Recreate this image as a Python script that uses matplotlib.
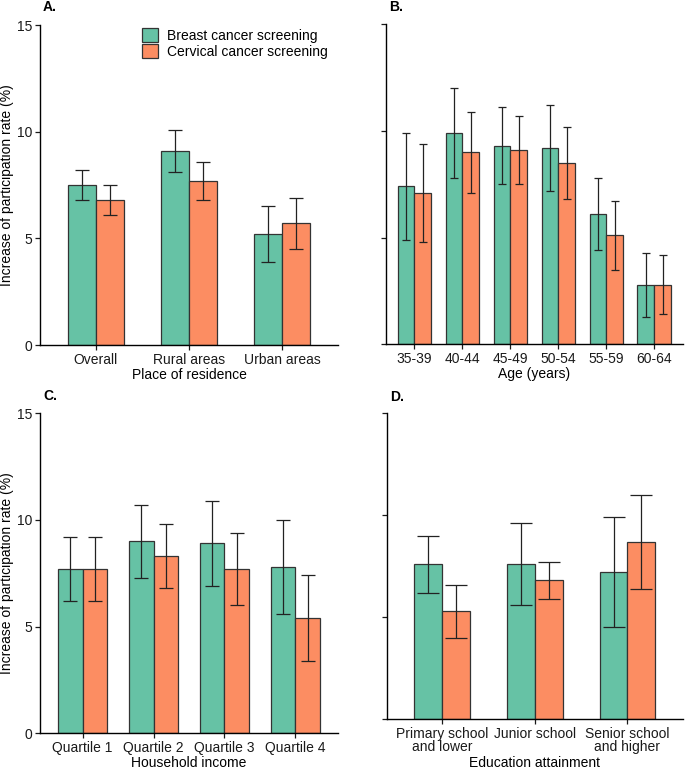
import numpy as np
import matplotlib.pyplot as plt

plt.rcParams['font.family'] = ['Liberation Sans', 'DejaVu Sans']

GREEN = '#66C2A5'
ORANGE = '#FC8D62'

# Panel A - place of residence
res_cats = ['Overall', 'Rural areas', 'Urban areas']
res_breast = [7.5, 9.1, 5.2]
res_breast_lo = [6.8, 8.1, 3.9]
res_breast_hi = [8.2, 10.1, 6.5]
res_cerv = [6.8, 7.7, 5.7]
res_cerv_lo = [6.1, 6.8, 4.5]
res_cerv_hi = [7.5, 8.6, 6.9]

# Panel B - age
age_cats = ['35-39', '40-44', '45-49', '50-54', '55-59', '60-64']
age_breast = [7.4, 9.9, 9.3, 9.2, 6.1, 2.8]
age_breast_lo = [4.9, 7.8, 7.5, 7.2, 4.4, 1.3]
age_breast_hi = [9.9, 12.0, 11.1, 11.2, 7.8, 4.3]
age_cerv = [7.1, 9.0, 9.1, 8.5, 5.1, 2.8]
age_cerv_lo = [4.8, 7.1, 7.5, 6.8, 3.5, 1.4]
age_cerv_hi = [9.4, 10.9, 10.7, 10.2, 6.7, 4.2]

# Panel C - household income
inc_cats = ['Quartile 1', 'Quartile 2', 'Quartile 3', 'Quartile 4']
inc_breast = [7.7, 9.0, 8.9, 7.8]
inc_breast_lo = [6.2, 7.3, 6.9, 5.6]
inc_breast_hi = [9.2, 10.7, 10.9, 10.0]
inc_cerv = [7.7, 8.3, 7.7, 5.4]
inc_cerv_lo = [6.2, 6.8, 6.0, 3.4]
inc_cerv_hi = [9.2, 9.8, 9.4, 7.4]

# Panel D - education
edu_cats = ['Primary school\nand lower', 'Junior school', 'Senior school\nand higher']
edu_breast = [7.6, 7.6, 7.2]
edu_breast_lo = [6.2, 5.6, 4.5]
edu_breast_hi = [9.0, 9.6, 9.9]
edu_cerv = [5.3, 6.8, 8.7]
edu_cerv_lo = [4.0, 5.9, 6.4]
edu_cerv_hi = [6.6, 7.7, 11.0]

fig = plt.figure(figsize=(6.85, 7.7), dpi=100)


def panel(rect, cats, b, blo, bhi, c, clo, chi, width, cap, xlabel, letter, ylabels=True):
    ax = fig.add_axes(rect)
    x = np.arange(1, len(cats) + 1)
    ekw = dict(ecolor='#222222', elinewidth=0.9, capthick=0.9, capsize=cap)
    b = np.array(b); c = np.array(c)
    ax.bar(x - width / 2, b, width, color=GREEN, edgecolor='#333333', linewidth=0.9,
           label='Breast cancer screening')
    ax.bar(x + width / 2, c, width, color=ORANGE, edgecolor='#333333', linewidth=0.9,
           label='Cervical cancer screening')
    ax.errorbar(x - width / 2, b, yerr=[b - np.array(blo), np.array(bhi) - b], fmt='none', **ekw)
    ax.errorbar(x + width / 2, c, yerr=[c - np.array(clo), np.array(chi) - c], fmt='none', **ekw)
    ax.set_xlim(0.4, len(cats) + 0.6)
    ax.set_ylim(0, 15)
    ax.set_yticks([0, 5, 10, 15])
    ax.set_xticks(x)
    ax.set_xticklabels(cats, linespacing=0.95)
    if not ylabels:
        ax.set_yticklabels([])
    for s in ['top', 'right']:
        ax.spines[s].set_visible(False)
    for s in ['left', 'bottom']:
        ax.spines[s].set_linewidth(1.0)
    ax.tick_params(length=3.5, width=0.9, pad=2, labelsize=10, colors='#1a1a1a')
    ax.set_xlabel(xlabel, fontsize=10, labelpad=1)
    ax.text(0.01, 1.055, letter, transform=ax.transAxes, fontsize=10, fontweight='bold',
            va='center', ha='left')
    return ax


axA = panel([0.0584, 0.5519, 0.435, 0.4156], res_cats, res_breast, res_breast_lo, res_breast_hi,
            res_cerv, res_cerv_lo, res_cerv_hi, 0.3, 5, 'Place of residence', 'A.')
axB = panel([0.5631, 0.5529, 0.434, 0.4156], age_cats, age_breast, age_breast_lo, age_breast_hi,
            age_cerv, age_cerv_lo, age_cerv_hi, 0.35, 3, 'Age (years)', 'B.', ylabels=False)
axC = panel([0.0584, 0.0477, 0.435, 0.4156], inc_cats, inc_breast, inc_breast_lo, inc_breast_hi,
            inc_cerv, inc_cerv_lo, inc_cerv_hi, 0.35, 5, 'Household income', 'C.')
axD = panel([0.5645, 0.0662, 0.4326, 0.397], edu_cats, edu_breast, edu_breast_lo, edu_breast_hi,
            edu_cerv, edu_cerv_lo, edu_cerv_hi, 0.3, 8, 'Education attainment', 'D.', ylabels=False)

axA.legend(loc='upper left', bbox_to_anchor=(0.341, 0.99), frameon=False, fontsize=10,
           handlelength=1.2, handleheight=1.2, labelspacing=0.05, borderpad=0,
           handletextpad=0.6, borderaxespad=0)

fig.text(7 / 685, 1 - 185 / 770, 'Increase of participation rate (%)', rotation=90,
         ha='center', va='center', fontsize=10)
fig.text(7 / 685, 1 - 573 / 770, 'Increase of participation rate (%)', rotation=90,
         ha='center', va='center', fontsize=10)

fig.savefig('out.png', dpi=100)
